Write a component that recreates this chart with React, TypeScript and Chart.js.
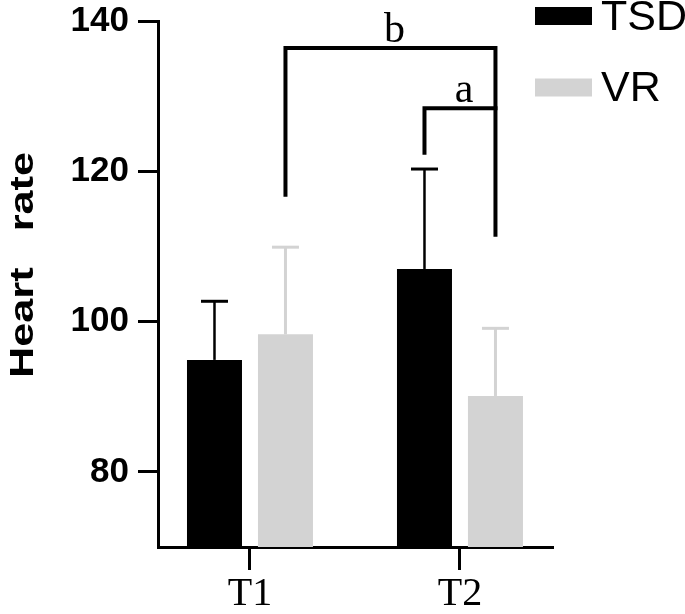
import React, { useEffect, useRef } from "react";
import { Chart, registerables } from "chart.js";

Chart.register(...registerables);

const categories = ["T1", "T2"];
const categoryPositions = [1, 2];
const tsdMeans = [94.9, 107.0];
const tsdSD = [7.8, 13.3];
const vrMeans = [98.3, 90.1];
const vrSD = [11.6, 9.0];
const yTicks = [80, 100, 120, 140];
// significance brackets (data units): [datasetA, indexA, datasetB, indexB]
const bracketLabels = ["b", "a"];
const bracketFrom = [[1, 0], [0, 1]];
const bracketTo = [[1, 1], [1, 1]];
const bracketTop = [136.4, 128.4];
const bracketLeftEnd = [116.6, 122.2];
const bracketRightEnd = [111.3, null as number | null];

const BLACK = "#000000";
const GRAY = "#d3d3d3";

const overlayPlugin = {
  id: "overlay",
  afterDatasetsDraw(chart: any) {
    const ctx = chart.ctx;
    const y = chart.scales.y;
    const sds = [tsdSD, vrSD];
    const means = [tsdMeans, vrMeans];
    // error bars (upper only)
    chart.data.datasets.forEach((ds: any, di: number) => {
      const meta = chart.getDatasetMeta(di);
      meta.data.forEach((bar: any, i: number) => {
        const top = y.getPixelForValue(means[di][i] + sds[di][i]);
        const base = y.getPixelForValue(means[di][i]);
        ctx.save();
        ctx.strokeStyle = ds.backgroundColor;
        ctx.lineWidth = di === 0 ? 2.5 : 3;
        ctx.beginPath();
        ctx.moveTo(bar.x, base);
        ctx.lineTo(bar.x, top);
        ctx.stroke();
        ctx.lineWidth = 3;
        ctx.beginPath();
        ctx.moveTo(bar.x - 13.5, top);
        ctx.lineTo(bar.x + 13.5, top);
        ctx.stroke();
        ctx.restore();
      });
    });
    // brackets
    bracketLabels.forEach((lab, k) => {
      const a = chart.getDatasetMeta(bracketFrom[k][0]).data[bracketFrom[k][1]];
      const b = chart.getDatasetMeta(bracketTo[k][0]).data[bracketTo[k][1]];
      const yt = y.getPixelForValue(bracketTop[k]);
      ctx.save();
      ctx.strokeStyle = BLACK;
      ctx.lineWidth = 4;
      ctx.lineJoin = "miter";
      ctx.beginPath();
      ctx.moveTo(a.x, y.getPixelForValue(bracketLeftEnd[k]));
      ctx.lineTo(a.x, yt);
      const re = bracketRightEnd[k];
      ctx.lineTo(b.x + (re === null ? 2 : 0), yt);
      if (re !== null) ctx.lineTo(b.x, y.getPixelForValue(re));
      ctx.stroke();
      ctx.fillStyle = BLACK;
      ctx.font = '42px "Liberation Serif", "DejaVu Serif", serif';
      ctx.textAlign = "center";
      ctx.textBaseline = "alphabetic";
      ctx.fillText(lab, (a.x + b.x) / 2 + 4, yt - 6);
      ctx.restore();
    });
  },
  afterDraw(chart: any) {
    const ctx = chart.ctx;
    // legend
    chart.data.datasets.forEach((ds: any, di: number) => {
      const cy = 16 + di * 71.5;
      ctx.save();
      ctx.fillStyle = ds.backgroundColor;
      ctx.fillRect(535, cy - 9, 57, 18);
      ctx.fillStyle = BLACK;
      ctx.font = '43px "Liberation Sans", Arial, sans-serif';
      ctx.textAlign = "left";
      ctx.textBaseline = "middle";
      ctx.fillText(ds.label, 601, cy + 2);
      ctx.restore();
    });
    // y title
    ctx.save();
    ctx.translate(33, 265);
    ctx.rotate(-Math.PI / 2);
    ctx.font = 'bold 34px "Liberation Sans", Arial, sans-serif';
    const txt = "Heart   rate";
    const w = ctx.measureText(txt).width;
    const s = 226 / w;
    ctx.scale(s, 1);
    ctx.fillStyle = BLACK;
    ctx.textAlign = "center";
    ctx.textBaseline = "alphabetic";
    ctx.fillText(txt, 0, 0);
    ctx.restore();
  },
};

export default function App() {
  const ref = useRef<HTMLCanvasElement>(null);
  useEffect(() => {
    document.body.style.margin = "0";
    const canvas = ref.current!;
    const chart = new Chart(canvas, {
      type: "bar",
      data: {
        datasets: [
          {
            label: "TSD",
            data: categoryPositions.map((x, i) => ({ x, y: tsdMeans[i] })),
            backgroundColor: BLACK,
            borderWidth: 0,
          },
          {
            label: "VR",
            data: categoryPositions.map((x, i) => ({ x, y: vrMeans[i] })),
            backgroundColor: GRAY,
            borderWidth: 0,
          },
        ],
      },
      options: {
        responsive: false,
        animation: false,
        events: [],
        categoryPercentage: 0.676,
        barPercentage: 0.775,
        layout: { padding: { top: 21, right: 132, left: 0, bottom: 0 } },
        plugins: {
          legend: { display: false },
          tooltip: { enabled: false },
          title: { display: false },
        },
        scales: {
          x: {
            type: "linear",
            offset: false,
            min: 0.562,
            max: 2.443,
            afterBuildTicks: (scale: any) => {
              scale.ticks = categoryPositions.map((v) => ({ value: v }));
            },
            afterFit: (scale: any) => {
              scale.height = 67;
            },
            ticks: {
              autoSkip: false,
              maxRotation: 0,
              padding: 0,
              color: BLACK,
              font: { family: '"Liberation Serif", "DejaVu Serif", serif', size: 40 },
              callback: (v: any) => {
                const i = categoryPositions.indexOf(Number(v));
                return i >= 0 ? categories[i] : "";
              },
            },
            grid: {
              offset: false,
              drawOnChartArea: false,
              drawTicks: true,
              tickLength: 23,
              tickWidth: 3,
              tickColor: BLACK,
              color: BLACK,
            },
            border: { color: BLACK, width: 3 },
          },
          y: {
            min: 70,
            max: 140,
            afterBuildTicks: (scale: any) => {
              scale.ticks = yTicks.map((v) => ({ value: v }));
            },
            afterFit: (scale: any) => {
              scale.width = 158;
            },
            ticks: {
              padding: 9,
              color: BLACK,
              font: { family: '"Liberation Sans", Arial, sans-serif', size: 35, weight: "bold", lineHeight: 0.6 },
            },
            grid: {
              drawOnChartArea: false,
              drawTicks: true,
              tickLength: 20,
              tickWidth: 3,
              tickColor: BLACK,
              color: BLACK,
            },
            border: { color: BLACK, width: 3 },
          },
        },
      } as any,
      plugins: [overlayPlugin],
    });
    return () => chart.destroy();
  }, []);
  return <canvas ref={ref} width={685} height={614} style={{ display: "block" }} />;
}
